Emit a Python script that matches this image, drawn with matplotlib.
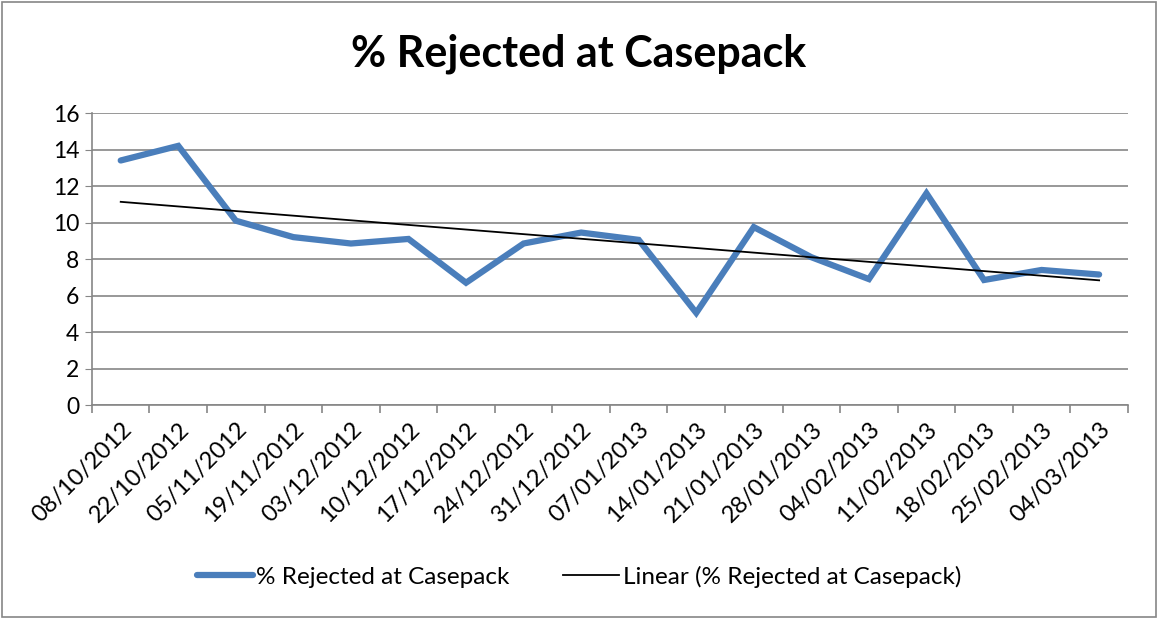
import numpy as np
import matplotlib.pyplot as plt
from matplotlib.patches import Rectangle

dates = ['08/10/2012', '22/10/2012', '05/11/2012', '19/11/2012', '03/12/2012',
         '10/12/2012', '17/12/2012', '24/12/2012', '31/12/2012', '07/01/2013',
         '14/01/2013', '21/01/2013', '28/01/2013', '04/02/2013', '11/02/2013',
         '18/02/2013', '25/02/2013', '04/03/2013']
rejected = [13.4, 14.2, 10.1, 9.2, 8.85, 9.1, 6.7, 8.85, 9.45, 9.05,
            5.05, 9.75, 8.1, 6.9, 11.6, 6.85, 7.4, 7.15]

plt.rcParams['font.family'] = ['Lato', 'DejaVu Sans']

x = np.arange(len(dates))
slope, intercept = np.polyfit(x, rejected, 1)
trend = slope * x + intercept

fig = plt.figure(figsize=(11.58, 6.19), dpi=100)
ax = fig.add_axes([0.0794, 0.3457, 0.8946, 0.4717])

ax.plot(x, rejected, color='#4a7ebb', linewidth=4.5, solid_capstyle='round',
        solid_joinstyle='miter', label='% Rejected at Casepack', zorder=3)
ax.plot(x, trend, color='black', linewidth=1.3, label='Linear (% Rejected at Casepack)', zorder=4)

ax.set_xlim(-0.5, len(dates) - 0.5)
ax.set_ylim(0, 16)
ax.set_yticks(np.arange(0, 17, 2))
ax.tick_params(axis='y', labelsize=16.5, length=5, color='#868686', pad=4)
ax.set_xticks(x)
ax.set_xticklabels(dates, rotation=45, ha='right', rotation_mode='anchor', fontsize=17)
ax.tick_params(axis='x', which='major', length=0, pad=10)
ax.set_xticks(np.arange(-0.5, len(dates), 1), minor=True)
ax.tick_params(axis='x', which='minor', length=6, color='#868686', width=1.2)

ax.grid(axis='y', color='#868686', linewidth=1.2)
ax.set_axisbelow(True)
for s in ['top', 'right']:
    ax.spines[s].set_visible(False)
for s in ['left', 'bottom']:
    ax.spines[s].set_color('#868686')
    ax.spines[s].set_linewidth(1.2)

fig.text(0.5, 0.913, '% Rejected at Casepack', ha='center', va='center',
         fontsize=31, fontweight='bold')

fig.legend(loc='center', bbox_to_anchor=(0.5, 0.068), ncol=2, frameon=False,
           fontsize=17.5, handlelength=2.3, handletextpad=0.15, columnspacing=2.2)

fig.patches.append(Rectangle((0.002, 0.003), 0.996, 0.994, transform=fig.transFigure,
                             fill=False, edgecolor='#868686', linewidth=1.2))

fig.savefig('out.png', dpi=100)
